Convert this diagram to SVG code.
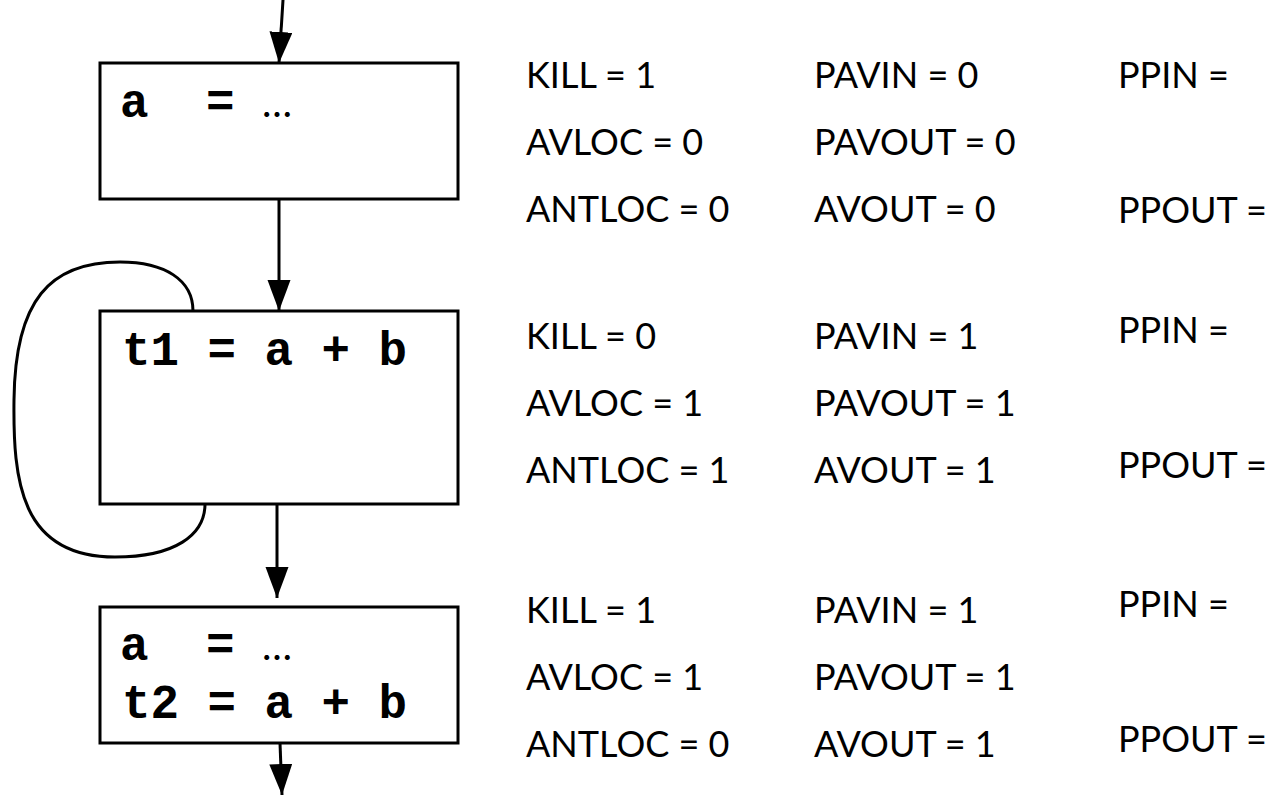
<svg xmlns="http://www.w3.org/2000/svg" width="1270" height="806" viewBox="0 0 1270 806">
  <style>
    .box { fill: #ffffff; stroke: #000000; stroke-width: 3; }
    .code { font-family: "Liberation Mono", "Courier New", monospace; font-weight: bold; font-size: 47.5px; fill: #000000; }
    .dots { font-family: Lato, "Liberation Sans", sans-serif; font-size: 40px; fill: #000000; }
    .lbl { font-family: Lato, "Liberation Sans", sans-serif; font-size: 36px; fill: #000000; }
    .edge { fill: none; stroke: #000000; stroke-width: 3; }
  </style>
  <defs>
    <marker id="arrow" markerUnits="userSpaceOnUse" markerWidth="32" markerHeight="24" refX="31" refY="11.5" orient="auto">
      <path d="M0,0 L31,11.5 L0,23 Z" fill="#000000"/>
    </marker>
  </defs>

  <rect width="1270" height="806" fill="#ffffff"/>

  <!-- basic blocks -->
  <g id="block1">
    <rect class="box" x="100" y="63" width="358" height="136"/>
    <text class="code" x="120" y="117">a</text>
    <text class="code" x="206" y="117">=</text>
    <text class="dots" x="262" y="117">…</text>
  </g>
  <g id="block2">
    <rect class="box" x="100" y="311" width="358" height="193"/>
    <text class="code" x="122" y="365">t1 = a + b</text>
  </g>
  <g id="block3">
    <rect class="box" x="100" y="607" width="358" height="136"/>
    <text class="code" x="120" y="660">a</text>
    <text class="code" x="206" y="660">=</text>
    <text class="dots" x="262" y="660">…</text>
    <text class="code" x="122" y="718">t2 = a + b</text>
  </g>

  <!-- control-flow edges -->
  <g id="edges">
    <path class="edge" d="M283,0 L279,63" marker-end="url(#arrow)"/>
    <path class="edge" d="M279,199 L279,311" marker-end="url(#arrow)"/>
    <path class="edge" d="M277,504 L277,598" marker-end="url(#arrow)"/>
    <path class="edge" d="M280,743 L282,795" marker-end="url(#arrow)"/>
    <path class="edge" d="M193,311 C193,280 165,262 120,262 C50,262 15,300 14,400 C13,480 20,557 115,557 C175,557 205,535 205,504"/>
  </g>

  <!-- dataflow sets for block 1 -->
  <g id="facts1">
    <text class="lbl" x="526" y="88">KILL = 1</text>
    <text class="lbl" x="526" y="155">AVLOC = 0</text>
    <text class="lbl" x="526" y="222">ANTLOC = 0</text>
    <text class="lbl" x="814" y="88">PAVIN = 0</text>
    <text class="lbl" x="814" y="155">PAVOUT = 0</text>
    <text class="lbl" x="814" y="222">AVOUT = 0</text>
    <text class="lbl" x="1118" y="88">PPIN =</text>
    <text class="lbl" x="1118" y="223">PPOUT =</text>
  </g>

  <!-- dataflow sets for block 2 -->
  <g id="facts2">
    <text class="lbl" x="526" y="349">KILL = 0</text>
    <text class="lbl" x="526" y="416">AVLOC = 1</text>
    <text class="lbl" x="526" y="483">ANTLOC = 1</text>
    <text class="lbl" x="814" y="349">PAVIN = 1</text>
    <text class="lbl" x="814" y="416">PAVOUT = 1</text>
    <text class="lbl" x="814" y="483">AVOUT = 1</text>
    <text class="lbl" x="1118" y="343">PPIN =</text>
    <text class="lbl" x="1118" y="478">PPOUT =</text>
  </g>

  <!-- dataflow sets for block 3 -->
  <g id="facts3">
    <text class="lbl" x="526" y="623">KILL = 1</text>
    <text class="lbl" x="526" y="690">AVLOC = 1</text>
    <text class="lbl" x="526" y="757">ANTLOC = 0</text>
    <text class="lbl" x="814" y="623">PAVIN = 1</text>
    <text class="lbl" x="814" y="690">PAVOUT = 1</text>
    <text class="lbl" x="814" y="757">AVOUT = 1</text>
    <text class="lbl" x="1118" y="617">PPIN =</text>
    <text class="lbl" x="1118" y="752">PPOUT =</text>
  </g>
</svg>
